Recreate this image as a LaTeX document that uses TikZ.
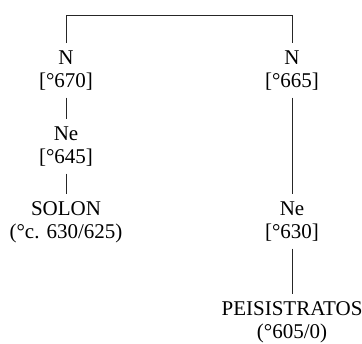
\documentclass[tikz,border=0pt]{standalone}
\usepackage{fontspec}
\setmainfont{Liberation Serif}
\begin{document}
\begin{tikzpicture}[
			x=0.5pt, y=-0.5pt,
			persona/.style={align=center, anchor=north,
				inner xsep=0pt, inner ysep=1pt,
				font=\fontsize{10.5}{11.6}\selectfont},
			ramo/.style={line width=0.5pt, black!85,
				shorten <=2.5pt, shorten >=2.5pt}]
			
			\useasboundingbox (0,0) rectangle (362,343);
			
			\def\xL{66}
			\def\xR{292}
			
			%% ramo sinistro
			\node[persona] (n670) at (\xL,48) {N\\{}[°670]};
			\node[persona] (n645) at (\xL,124) {Ne\\{}[°645]};
			\node[persona] (solon) at (\xL,199) {SOLON\\(°c. 630/625)};
			
			%% ramo destro
			\node[persona] (n665) at (\xR,48) {N\\{}[°665]};
			\node[persona] (n630) at (\xR,199) {Ne\\{}[°630]};
			\node[persona] (peis) at (\xR,299) {PEISISTRATOS\\(°605/0)};
			
			%% barra comune
			\coordinate (barra) at (179,15);
			\draw[ramo] (n670.north) -- (n670.north |- barra)
				-- (n665.north |- barra) -- (n665.north);
			
			%% discendenze
			\draw[ramo] (n670) -- (n645);
			\draw[ramo] (n645) -- (solon);
			\draw[ramo] (n665) -- (n630);
			\draw[ramo] (n630) -- (peis);
			
		\end{tikzpicture}
\end{document}
